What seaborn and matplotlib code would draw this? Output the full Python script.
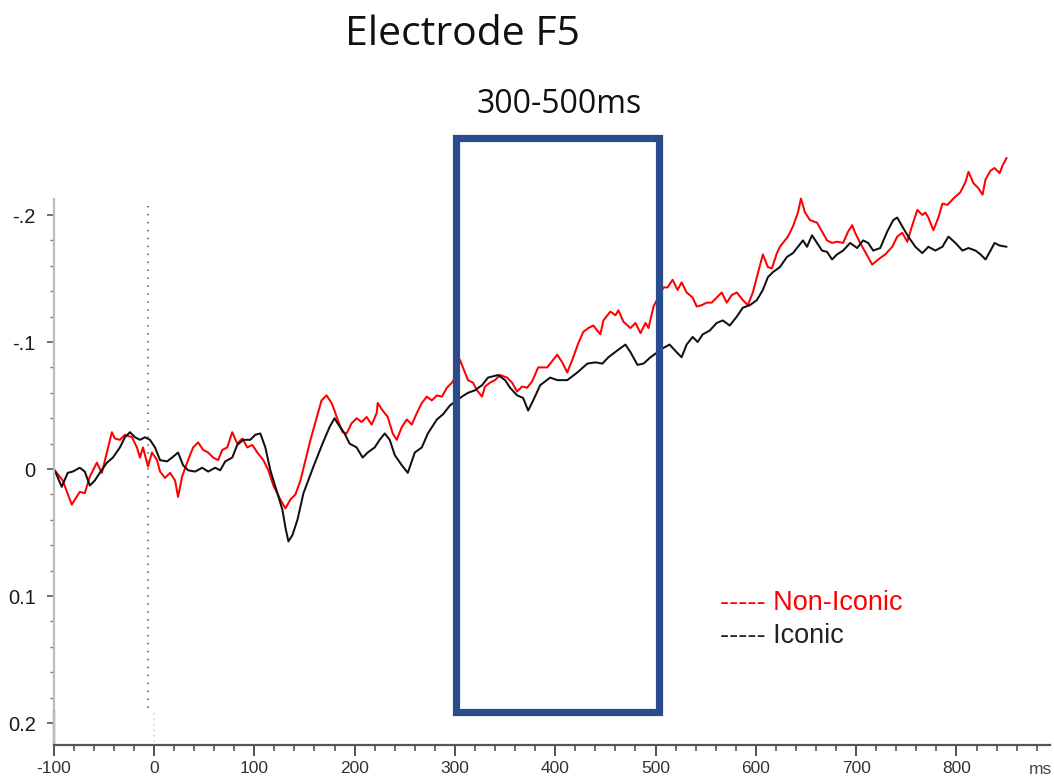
import numpy as np
import pandas as pd
import matplotlib
matplotlib.use("Agg")
import matplotlib.pyplot as plt
import seaborn as sns
from matplotlib.patches import Rectangle
from matplotlib.ticker import FixedLocator, MultipleLocator

# ---- ERP traces at electrode F5 (time in ms, amplitude; negative plotted up) ----
noniconic_ms = [
    -99, -91, -82, -74, -69, -64, -57, -52, -47, -42, -39, -34, -29, -22, -17, -14, -11, -6, -2, 3,
    6, 11, 16, 21, 24, 28, 33, 39, 44, 49, 54, 59, 64, 68, 73, 78, 83, 88, 93, 98,
    103, 109, 114, 119, 126, 131, 136, 141, 146, 156, 167, 172, 177, 180, 183, 188, 192, 197, 202, 207,
    212, 217, 222, 223, 228, 233, 238, 242, 247, 252, 257, 262, 267, 272, 277, 282, 287, 292, 297, 302,
    305, 308, 313, 318, 322, 327, 330, 335, 340, 345, 352, 357, 362, 367, 372, 377, 383, 392, 402, 407,
    412, 417, 423, 428, 433, 438, 445, 448, 455, 460, 463, 468, 475, 480, 485, 490, 493, 498, 508, 512,
    517, 522, 526, 531, 537, 541, 546, 551, 556, 561, 566, 571, 576, 581, 587, 592, 597, 602, 607, 612,
    616, 621, 624, 632, 637, 642, 645, 649, 654, 661, 666, 671, 676, 681, 687, 692, 696, 699, 704, 709,
    716, 722, 729, 736, 741, 746, 751, 756, 761, 766, 769, 772, 777, 782, 786, 791, 797, 804, 809, 812,
    817, 822, 826, 829, 834, 838, 843, 846, 850,
]
noniconic_amp = [
    0.001, 0.009, 0.028, 0.018, 0.019, 0.006, -0.005, 0.003, -0.013, -0.029, -0.024, -0.023, -0.027, -0.025, -0.017, -0.009, -0.017, -0.002, -0.013, -0.007,
    0.002, 0.007, 0.003, 0.009, 0.022, 0.006, -0.005, -0.017, -0.021, -0.015, -0.013, -0.009, -0.007, -0.015, -0.017, -0.029, -0.020, -0.024, -0.017, -0.019,
    -0.013, -0.007, 0.001, 0.013, 0.024, 0.031, 0.024, 0.020, 0.009, -0.023, -0.054, -0.058, -0.052, -0.046, -0.039, -0.029, -0.028, -0.036, -0.040, -0.037,
    -0.041, -0.035, -0.044, -0.052, -0.046, -0.041, -0.028, -0.023, -0.033, -0.039, -0.035, -0.044, -0.052, -0.057, -0.054, -0.058, -0.057, -0.064, -0.068, -0.074,
    -0.086, -0.080, -0.070, -0.068, -0.062, -0.057, -0.065, -0.068, -0.070, -0.074, -0.072, -0.068, -0.061, -0.065, -0.064, -0.069, -0.080, -0.080, -0.090, -0.084,
    -0.076, -0.086, -0.099, -0.108, -0.111, -0.113, -0.106, -0.117, -0.124, -0.121, -0.125, -0.116, -0.111, -0.115, -0.107, -0.115, -0.111, -0.128, -0.143, -0.143,
    -0.149, -0.141, -0.147, -0.139, -0.135, -0.128, -0.129, -0.131, -0.131, -0.135, -0.139, -0.131, -0.137, -0.139, -0.133, -0.129, -0.139, -0.154, -0.169, -0.159,
    -0.158, -0.170, -0.175, -0.183, -0.191, -0.202, -0.213, -0.202, -0.196, -0.194, -0.187, -0.180, -0.178, -0.179, -0.178, -0.187, -0.192, -0.186, -0.178, -0.171,
    -0.161, -0.165, -0.169, -0.175, -0.183, -0.186, -0.179, -0.192, -0.204, -0.200, -0.202, -0.198, -0.188, -0.198, -0.209, -0.208, -0.213, -0.218, -0.226, -0.234,
    -0.225, -0.221, -0.216, -0.228, -0.235, -0.237, -0.233, -0.239, -0.245,
]

iconic_ms = [
    -99, -92, -86, -81, -74, -69, -64, -59, -54, -47, -41, -34, -29, -24, -19, -14, -9, -4, 1, 6,
    13, 18, 24, 29, 34, 41, 48, 54, 61, 66, 71, 78, 83, 89, 96, 101, 106, 111, 116, 121,
    128, 131, 134, 138, 143, 149, 159, 168, 175, 180, 183, 190, 195, 202, 208, 213, 220, 225, 230, 235,
    240, 247, 253, 260, 267, 273, 282, 288, 295, 300, 307, 313, 320, 327, 333, 343, 350, 355, 362, 368,
    373, 378, 385, 395, 402, 412, 422, 432, 440, 447, 453, 458, 463, 470, 475, 482, 488, 495, 502, 507,
    514, 521, 526, 531, 537, 542, 547, 554, 561, 567, 574, 581, 587, 594, 601, 607, 612, 617, 624, 631,
    637, 642, 647, 651, 656, 661, 666, 671, 676, 681, 687, 694, 701, 707, 712, 717, 724, 731, 737, 741,
    746, 752, 759, 766, 772, 779, 786, 792, 799, 806, 812, 819, 824, 829, 834, 838, 843, 850,
]
iconic_amp = [
    0.001, 0.014, 0.003, 0.002, -0.001, 0.002, 0.013, 0.009, 0.003, -0.005, -0.009, -0.017, -0.025, -0.029, -0.025, -0.023, -0.025, -0.023, -0.017, -0.007,
    -0.006, -0.009, -0.013, -0.003, 0.001, 0.002, -0.001, 0.002, -0.001, 0.001, -0.006, -0.009, -0.019, -0.023, -0.023, -0.027, -0.028, -0.017, 0.001, 0.014,
    0.032, 0.046, 0.057, 0.052, 0.040, 0.019, -0.002, -0.020, -0.033, -0.040, -0.036, -0.028, -0.020, -0.017, -0.009, -0.013, -0.017, -0.023, -0.028, -0.023,
    -0.011, -0.003, 0.003, -0.013, -0.017, -0.028, -0.039, -0.043, -0.050, -0.053, -0.057, -0.060, -0.062, -0.066, -0.072, -0.074, -0.070, -0.064, -0.058, -0.056,
    -0.046, -0.054, -0.066, -0.072, -0.070, -0.070, -0.076, -0.083, -0.084, -0.083, -0.088, -0.091, -0.094, -0.098, -0.092, -0.082, -0.083, -0.088, -0.092, -0.095,
    -0.098, -0.092, -0.088, -0.098, -0.104, -0.100, -0.106, -0.109, -0.115, -0.117, -0.113, -0.120, -0.127, -0.129, -0.133, -0.141, -0.151, -0.155, -0.159, -0.167,
    -0.170, -0.175, -0.180, -0.175, -0.184, -0.178, -0.172, -0.171, -0.165, -0.169, -0.172, -0.178, -0.174, -0.180, -0.178, -0.172, -0.174, -0.187, -0.196, -0.198,
    -0.191, -0.183, -0.175, -0.170, -0.175, -0.172, -0.175, -0.183, -0.178, -0.172, -0.174, -0.172, -0.169, -0.165, -0.172, -0.178, -0.176, -0.175,
]

conditions = ["Non-Iconic", "Iconic"]
condition_colors = {"Non-Iconic": "#ff0000", "Iconic": "#111111"}

x_ticks = [-100, 0, 100, 200, 300, 400, 500, 600, 700, 800]
x_tick_labels = ["-100", "0", "100", "200", "300", "400", "500", "600", "700", "800"]
y_ticks = [-0.2, -0.1, 0.0, 0.1, 0.2]
y_tick_labels = ["-.2", "-.1", "0", "0.1", "0.2"]

window_start, window_end = 301, 503.5

df = pd.concat([
    pd.DataFrame({"ms": noniconic_ms, "amp": noniconic_amp, "cond": conditions[0]}),
    pd.DataFrame({"ms": iconic_ms, "amp": iconic_amp, "cond": conditions[1]}),
], ignore_index=True)

sns.set_style("white")
plt.rcParams["font.family"] = ["Liberation Sans", "DejaVu Sans"]

fig = plt.figure(figsize=(10.54, 7.78), dpi=100)
ax = fig.add_axes([0.05095, 0.0429, 0.9450, 0.7950])

sns.lineplot(data=df, x="ms", y="amp", hue="cond", hue_order=conditions,
             palette=condition_colors, estimator=None, sort=False,
             linewidth=1.45, legend=False, ax=ax)

ax.set_xlim(-100, 893)
ax.set_ylim(0.217, -0.27)
ax.set_xlabel("")
ax.set_ylabel("")

# axes frame
for side in ("top", "right"):
    ax.spines[side].set_visible(False)
ax.spines["left"].set_bounds(-0.213, 0.217)
ax.spines["left"].set_color("#bdbdbd")
ax.spines["left"].set_linewidth(1.6)
ax.spines["bottom"].set_color("#555555")
ax.spines["bottom"].set_linewidth(1.6)
ax.vlines(-100, 0.19, 0.217, color="#333333", lw=1.6, clip_on=False)

# ticks
ax.set_xticks(x_ticks)
ax.set_xticklabels(x_tick_labels)
ax.xaxis.set_minor_locator(MultipleLocator(20))
ax.set_yticks(y_ticks)
ax.set_yticklabels(y_tick_labels)
ax.yaxis.set_minor_locator(FixedLocator([v for v in np.round(np.arange(-0.2, 0.201, 0.02), 2)
                                         if round(v * 10, 6) != round(v * 10)]))
ax.tick_params(axis="x", which="major", direction="out", length=8, width=1.3,
               color="#444444", labelsize=12.5, labelcolor="#333333", pad=4, bottom=True)
ax.tick_params(axis="x", which="minor", direction="out", length=4, width=1.1,
               color="#444444", bottom=True)
ax.tick_params(axis="y", which="major", direction="out", length=5, width=1.2,
               color="#555555", labelsize=14.5, labelcolor="#1a1a1a", pad=8, left=True)
ax.tick_params(axis="y", which="minor", direction="out", length=3, width=1.0,
               color="#777777", left=True)

# stimulus onset marker
ax.plot([-6, -6], [-0.207, 0.192], ls=(0, (0.8, 3.6)), color="#666666", lw=1.3)
ax.plot([0, 0], [0.192, 0.217], ls=(0, (0.8, 2.5)), color="#cccccc", lw=1.2, clip_on=False)

# analysis window 300-500 ms
ax.add_patch(Rectangle((window_start, -0.261), window_end - window_start, 0.452,
                       fill=False, edgecolor="#2a4b8c", lw=5.2, clip_on=False, zorder=5))

fig.text(0.531, 0.866, "300-500ms", ha="center", va="center", fontsize=23,
         family=["Open Sans", "DejaVu Sans"], color="#111111")
fig.text(0.439, 0.955, "Electrode F5", ha="center", va="center", fontsize=29.5,
         family=["Open Sans", "DejaVu Sans"], color="#111111")

fig.text(0.683, 0.225, "----- Non-Iconic", ha="left", va="center", fontsize=19.5,
         color="#ff0000")
fig.text(0.683, 0.182, "----- Iconic", ha="left", va="center", fontsize=19.5,
         color="#222222")

fig.text(0.987, 0.011, "ms", ha="center", va="center", fontsize=12.5, color="#444444")

fig.savefig("out.png", dpi=100, facecolor="white")
